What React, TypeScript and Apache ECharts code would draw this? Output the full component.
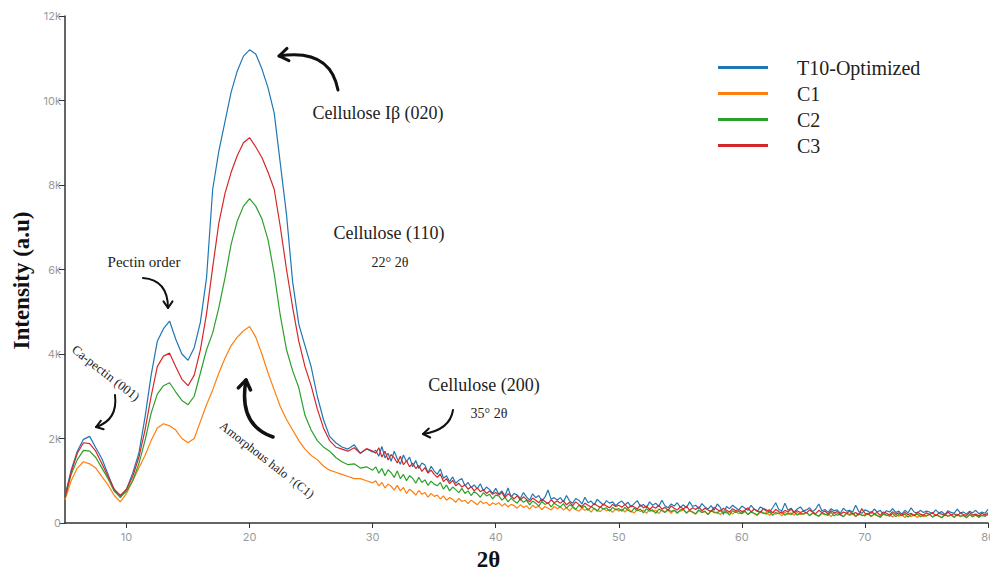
import React, { useEffect, useRef } from "react";
import * as echarts from "echarts";

// Scan grid: 0.5° steps from 5° to 30°, then 0.25° steps from 30° to 80°
const ANGLE_START = 5;
const MAIN_STEP = 0.5;
const MAIN_COUNT = 51; // 5.0 … 30.0
const TAIL_STEP = 0.25;

const seriesNames = ["T10-Optimized", "C1", "C2", "C3"];
const seriesColors = ["#1f77b4", "#ff7f0e", "#2ca02c", "#d62728"];

const xTickValues = [10, 20, 30, 40, 50, 60, 70, 80];

// Intensities (a.u.), one value per grid step
const t10Optimized = [
  650, 1250, 1700, 1980, 2050, 1780, 1520, 1150, 780, 600,
  800, 1180, 1650, 2500, 3500, 4300, 4600, 4780, 4350, 4000,
  3850, 4150, 4750, 5800, 7900, 8800, 9500, 10200, 10700, 11050,
  11200, 11100, 10750, 10300, 9700, 8500, 7300, 5700, 4700, 4200,
  3700, 3000, 2450, 2050, 1900, 1800, 1750, 1850, 1650, 1750,
  1680,
  1720, 1580, 1810, 1540, 1650, 1460, 1700, 1520, 1390, 1610, 1450, 1560, 1330, 1480, 1290, 1420, 1370, 1190, 1340, 1230,
  1150, 1280, 1060, 1120, 980, 1090, 940, 1010, 1050, 880, 960, 840, 900, 810, 930, 760, 850, 790, 700, 820,
  680, 760, 640, 830, 610, 700, 660, 580, 720, 620, 540, 690, 600, 650, 520, 610, 780, 560, 600, 540,
  600, 500, 650, 520, 470, 580, 540, 450, 610, 480, 520, 430, 560, 490, 420, 530, 470, 500, 410, 480,
  520, 430, 490, 380, 460, 530, 400, 440, 360, 500, 420, 470, 390, 540, 410, 360, 450, 400, 480, 370,
  430, 360, 500, 390, 420, 340, 460, 380, 330, 410, 300, 450, 370, 200, 390, 340, 420, 360, 310, 400,
  350, 300, 420, 330, 270, 380, 340, 310, 250, 360, 480, 320, 290, 470, 300, 350, 260, 330, 380, 290,
  310, 360, 270, 330, 450, 290, 320, 250, 340, 290, 310, 230, 350, 280, 300, 260, 420, 270, 230, 310,
  280, 230, 330, 260, 300, 200, 290, 260, 340, 250, 280, 210, 300, 240, 360, 260, 230, 300, 250, 280,
  260, 220, 310, 240, 270, 200, 290, 250, 230, 330, 240, 260, 210, 280, 240, 300, 220, 260, 230, 320,
];

const c1 = [
  550, 1000, 1300, 1450, 1400, 1300, 1100, 900, 650, 500,
  700, 1000, 1300, 1600, 1950, 2250, 2350, 2300, 2200, 2000,
  1900, 2000, 2400, 2800, 3150, 3550, 3900, 4200, 4400, 4550,
  4650, 4400, 4000, 3550, 3150, 2750, 2450, 2200, 1950, 1750,
  1600, 1500, 1350, 1250, 1200, 1150, 1100, 1050, 1050, 1000,
  950,
  1000, 880, 960, 830, 920, 870, 780, 890, 760, 840, 700, 800, 740, 660, 770, 680, 720, 610, 700, 630,
  660, 570, 640, 540, 600, 560, 490, 580, 510, 540, 460, 540, 490, 430, 520, 460, 490, 410, 480, 440,
  480, 400, 460, 380, 440, 410, 350, 430, 370, 410, 330, 420, 360, 400, 320, 390, 350, 310, 390, 340,
  380, 310, 360, 290, 370, 320, 280, 350, 300, 340, 260, 350, 300, 270, 340, 290, 320, 250, 340, 280,
  330, 260, 340, 280, 240, 320, 270, 310, 230, 330, 270, 300, 220, 320, 260, 300, 230, 310, 250, 280,
  310, 230, 300, 250, 210, 300, 250, 270, 200, 290, 240, 260, 200, 290, 230, 270, 210, 280, 220, 250,
  280, 200, 270, 220, 180, 260, 220, 250, 180, 260, 210, 240, 170, 250, 200, 240, 180, 250, 200, 220,
  250, 170, 240, 190, 160, 230, 190, 220, 150, 240, 180, 210, 150, 230, 180, 220, 150, 230, 170, 200,
  220, 150, 210, 170, 130, 210, 170, 200, 140, 210, 160, 190, 130, 210, 150, 200, 130, 200, 150, 180,
  200, 140, 200, 160, 120, 190, 160, 190, 130, 200, 150, 180, 120, 200, 150, 190, 130, 190, 160, 200,
];

const c2 = [
  600, 1150, 1500, 1720, 1700, 1550, 1300, 1050, 750, 620,
  750, 1000, 1400, 1950, 2600, 3050, 3250, 3320, 3100, 2900,
  2800, 3000, 3550, 4100, 4500, 5100, 5800, 6600, 7150, 7500,
  7680, 7500, 7200, 6700, 5900, 4900, 4100, 3600, 3200, 2550,
  2200, 1950, 1800, 1700, 1550, 1450, 1380, 1400, 1300, 1330,
  1250,
  1330, 1180, 1290, 1120, 1260, 1190, 1080, 1230, 1050, 1150, 1000, 1120, 1060, 940, 1080, 960, 1020, 890, 990, 920,
  880, 960, 800, 900, 760, 850, 790, 720, 820, 700, 760, 650, 740, 690, 610, 720, 640, 680, 570, 660,
  640, 540, 610, 500, 590, 520, 470, 570, 490, 540, 430, 520, 470, 400, 510, 440, 480, 380, 470, 420,
  380, 460, 350, 430, 390, 320, 420, 360, 400, 300, 390, 340, 280, 380, 330, 360, 280, 370, 310, 340,
  280, 370, 300, 260, 350, 290, 330, 240, 340, 280, 310, 230, 330, 290, 250, 320, 270, 300, 230, 310,
  330, 240, 290, 260, 220, 310, 250, 280, 200, 300, 260, 230, 310, 240, 270, 190, 290, 250, 280, 220,
  280, 200, 260, 230, 190, 280, 240, 210, 270, 180, 250, 220, 270, 180, 240, 200, 260, 190, 230, 210,
  250, 180, 230, 200, 160, 240, 210, 180, 250, 170, 220, 190, 150, 230, 200, 240, 160, 220, 190, 170,
  230, 160, 210, 180, 140, 220, 190, 160, 230, 150, 200, 170, 210, 140, 200, 170, 220, 150, 190, 160,
  210, 140, 190, 170, 130, 200, 160, 190, 140, 210, 160, 180, 130, 200, 150, 190, 140, 180, 160, 200,
];

const c3 = [
  600, 1200, 1650, 1900, 1880, 1700, 1400, 1100, 800, 650,
  800, 1100, 1550, 2200, 3000, 3700, 3950, 4020, 3700, 3400,
  3250, 3500, 4100, 4950, 6050, 7100, 7800, 8300, 8700, 9000,
  9120, 8900, 8650, 8300, 7900, 7000, 6000, 5100, 4300, 3700,
  3250, 2700, 2250, 1950, 1800, 1750, 1700, 1780, 1650, 1760,
  1700,
  1650, 1780, 1560, 1700, 1490, 1620, 1540, 1420, 1580, 1380, 1470, 1330, 1420, 1290, 1360, 1220, 1310, 1180, 1250, 1150,
  1080, 1160, 980, 1050, 930, 1010, 880, 940, 850, 900, 800, 860, 760, 830, 740, 790, 700, 760, 680, 720,
  660, 720, 600, 690, 640, 570, 650, 540, 620, 560, 500, 590, 540, 480, 570, 510, 460, 550, 480, 520,
  470, 530, 430, 490, 410, 500, 440, 390, 470, 420, 380, 460, 410, 370, 450, 400, 360, 440, 390, 420,
  370, 440, 350, 410, 380, 330, 430, 360, 400, 320, 390, 350, 420, 330, 370, 300, 400, 350, 310, 380,
  330, 400, 300, 360, 320, 380, 290, 350, 310, 270, 370, 320, 280, 350, 300, 260, 340, 290, 320, 270,
  300, 360, 260, 330, 290, 250, 340, 280, 310, 240, 320, 270, 230, 300, 260, 330, 240, 290, 250, 280,
  240, 310, 260, 220, 300, 250, 280, 210, 290, 240, 270, 200, 260, 230, 280, 210, 250, 190, 340, 230,
  200, 270, 220, 250, 180, 260, 230, 190, 270, 210, 240, 180, 250, 200, 230, 170, 260, 210, 190, 240,
  200, 250, 170, 230, 210, 180, 260, 190, 220, 170, 240, 200, 180, 250, 190, 210, 170, 230, 190, 240,
];

const seriesValues = [t10Optimized, c1, c2, c3];

const SERIF = "'Liberation Serif', 'Times New Roman', 'DejaVu Serif', serif";
const SANS = "Inter, 'Liberation Sans', Arial, sans-serif";

function angleAt(i: number) {
  return i < MAIN_COUNT
    ? ANGLE_START + i * MAIN_STEP
    : ANGLE_START + (MAIN_COUNT - 1) * MAIN_STEP + (i - MAIN_COUNT + 1) * TAIL_STEP;
}

function toPairs(values: number[]) {
  return values.map((v, i) => [angleAt(i), v]);
}

// Quadratic curve with a chevron head at its end point
function curvedArrow(
  x1: number, y1: number, cx: number, cy: number, x2: number, y2: number,
  width: number, head: number
) {
  const ang = Math.atan2(y2 - cy, x2 - cx);
  const a1 = ang + Math.PI - 0.6;
  const a2 = ang + Math.PI + 0.6;
  const stroke = "#111";
  return [
    {
      type: "bezierCurve",
      silent: true,
      shape: { x1, y1, x2, y2, cpx1: cx, cpy1: cy },
      style: { stroke, lineWidth: width, fill: "none", lineCap: "round" },
    },
    {
      type: "polyline",
      silent: true,
      shape: {
        points: [
          [x2 + head * Math.cos(a1), y2 + head * Math.sin(a1)],
          [x2, y2],
          [x2 + head * Math.cos(a2), y2 + head * Math.sin(a2)],
        ],
      },
      style: { stroke, lineWidth: width, fill: "none", lineCap: "round", lineJoin: "round" },
    },
  ];
}

function label(text: string, x: number, y: number, size: number, rotationDeg = 0) {
  return {
    type: "text",
    silent: true,
    x,
    y,
    rotation: (rotationDeg * Math.PI) / 180,
    style: {
      text,
      fill: "#222",
      fontSize: size,
      fontFamily: SERIF,
      align: "center",
      verticalAlign: "middle",
      textAlign: "center",
      textVerticalAlign: "middle",
    },
  };
}

export default function App() {
  const ref = useRef<HTMLDivElement>(null);

  useEffect(() => {
    document.body.style.margin = "0";
    if (!ref.current) return;
    const chart = echarts.init(ref.current, undefined, { renderer: "svg" });

    const option = {
      animation: false,
      backgroundColor: "#ffffff",
      grid: {
        left: 65,
        right: 2,
        top: 16,
        bottom: 50,
        containLabel: false,
        outerBoundsMode: "none",
      },
      legend: {
        orient: "vertical",
        left: 713,
        top: 51,
        itemWidth: 50,
        itemHeight: 3,
        itemGap: 3,
        icon: "rect",
        selectedMode: false,
        data: seriesNames,
        textStyle: {
          fontFamily: SERIF,
          fontSize: 20,
          color: "#222",
          lineHeight: 23,
          padding: [0, 0, 0, 24],
        },
      },
      xAxis: {
        type: "value",
        min: 5,
        max: 80,
        name: "2θ",
        nameLocation: "middle",
        nameGap: 25,
        nameTextStyle: {
          fontFamily: SERIF,
          fontWeight: "bold",
          fontSize: 23,
          color: "#111",
          padding: [0, 76, 0, 0],
        },
        axisLine: { lineStyle: { color: "#333", width: 1.5 } },
        axisTick: { show: true, length: 5, customValues: xTickValues, lineStyle: { color: "#333" } },
        axisLabel: {
          customValues: xTickValues,
          color: "#9a9a9a",
          fontFamily: SANS,
          fontSize: 11,
          margin: 8,
        },
        splitLine: { show: false },
      },
      yAxis: {
        type: "value",
        min: 0,
        max: 12000,
        interval: 2000,
        name: "Intensity (a.u)",
        nameLocation: "middle",
        nameGap: 32,
        nameTextStyle: {
          fontFamily: SERIF,
          fontWeight: "bold",
          fontSize: 23,
          color: "#111",
          padding: [0, 22, 0, 0],
        },
        axisLine: { show: true, lineStyle: { color: "#333", width: 1.5 } },
        axisTick: { show: true, length: 6, lineStyle: { color: "#333" } },
        axisLabel: {
          color: "#9a9a9a",
          fontFamily: SANS,
          fontSize: 11,
          margin: 4,
          formatter: (v: number) => (v === 0 ? "0" : `${v / 1000}k`),
        },
        splitLine: { show: false },
      },
      series: seriesNames.map((name, i) => ({
        name,
        type: "line",
        data: toPairs(seriesValues[i]),
        showSymbol: false,
        symbol: "none",
        lineStyle: { color: seriesColors[i], width: 1.2 },
        itemStyle: { color: seriesColors[i] },
        z: 2 + i,
      })),
      graphic: [
        label("Cellulose Iβ (020)", 378, 113, 18),
        label("Cellulose (110)", 389, 233, 18),
        label("22° 2θ", 390, 262, 14),
        label("Pectin order", 144, 262, 15),
        label("Cellulose (200)", 484, 385, 18),
        label("35° 2θ", 489, 413, 14),
        label("Ca-pectin (001)", 106, 373, 13, -38),
        label("Amorphous halo ↑(C1)", 267, 460, 12.5, -38),
        ...curvedArrow(338, 90, 330, 48, 279, 56, 3, 11),
        ...curvedArrow(143, 278, 168, 280, 168, 308, 2, 8),
        ...curvedArrow(115, 395, 118, 420, 96, 427, 2, 8),
        ...curvedArrow(273, 437, 238, 425, 246, 380, 3.5, 11),
        ...curvedArrow(453, 410, 450, 430, 423, 434, 2, 8),
      ],
    };

    chart.setOption(option as any);
    return () => chart.dispose();
  }, []);

  return <div ref={ref} style={{ width: 990, height: 573 }} />;
}
